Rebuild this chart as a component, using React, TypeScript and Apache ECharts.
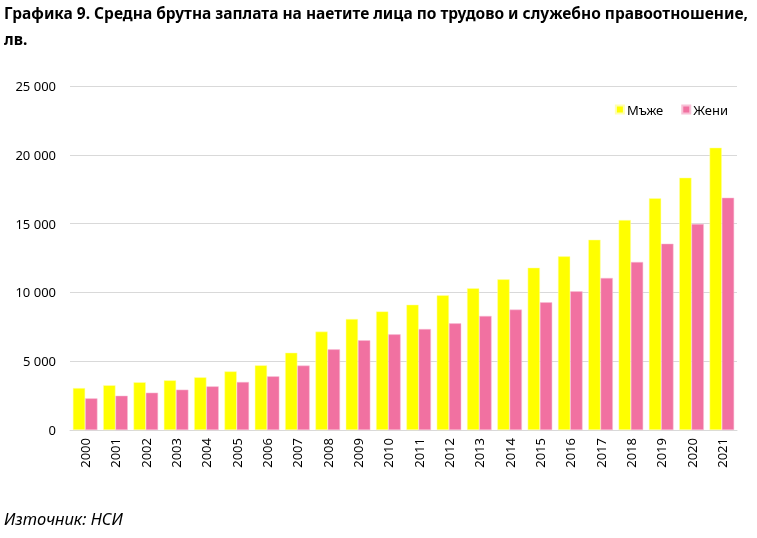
import React, { useEffect, useRef } from "react";
import * as echarts from "echarts";

const years = ["2000","2001","2002","2003","2004","2005","2006","2007","2008","2009","2010","2011","2012","2013","2014","2015","2016","2017","2018","2019","2020","2021"];
const men = [3050,3250,3470,3610,3830,4260,4700,5620,7150,8070,8620,9110,9790,10300,10950,11800,12620,13830,15260,16840,18340,20520];
const women = [2300,2490,2710,2930,3170,3490,3900,4680,5860,6520,6950,7340,7750,8290,8750,9280,10080,11050,12210,13540,14970,16880];
const seriesNames = ["Мъже", "Жени"];
const titleLines = ["Графика 9. Средна брутна заплата на наетите лица по трудово и служебно правоотношение,", "лв."];
const sourceText = "Източник: НСИ";

const FONT = "'Noto Sans', 'Open Sans', sans-serif";

export default function App() {
  const ref = useRef<HTMLDivElement>(null);
  useEffect(() => {
    const chart = echarts.init(ref.current!, null, { renderer: "svg" });
    chart.setOption({
      animation: false,
      textStyle: { fontFamily: FONT },
      graphic: [
        { type: "text", left: 4, top: 5, style: { text: titleLines[0], font: `bold 15.5px ${FONT}`, fill: "#000" } },
        { type: "text", left: 4, top: 31, style: { text: titleLines[1], font: `bold 15.5px ${FONT}`, fill: "#000" } },
        { type: "text", left: 4, top: 510, style: { text: sourceText, font: `italic 16.5px ${FONT}`, fill: "#000" } },
      ],
      legend: {
        data: seriesNames,
        right: 24,
        top: 98,
        icon: "rect",
        itemWidth: 8,
        itemHeight: 8,
        itemGap: 18,
        textStyle: { fontSize: 13, color: "#000", fontFamily: FONT, padding: [0, 0, 0, -2] },
      },
      grid: { left: 70, right: 20, top: 86, bottom: 108, containLabel: false },
      xAxis: {
        type: "category",
        data: years,
        axisLine: { lineStyle: { color: "#d9d9d9", width: 1 } },
        axisTick: { show: false },
        axisLabel: { rotate: 90, color: "#000", fontSize: 13, fontFamily: FONT, margin: 8, interval: 0 },
      },
      yAxis: {
        type: "value",
        min: 0,
        max: 25000,
        interval: 5000,
        axisLine: { show: false },
        axisTick: { show: false },
        splitLine: { lineStyle: { color: "#d9d9d9", width: 1 } },
        axisLabel: {
          color: "#000",
          fontSize: 13,
          fontFamily: FONT,
          margin: 14,
          formatter: (v: number) => String(v).replace(/\B(?=(\d{3})+(?!\d))/g, " "),
        },
      },
      series: [
        {
          name: seriesNames[0],
          type: "bar",
          data: men,
          barGap: "0%",
          barCategoryGap: "19%",
          itemStyle: { color: "#FFFF00", borderColor: "#FFFFB0", borderWidth: 0.5 },
        },
        {
          name: seriesNames[1],
          type: "bar",
          data: women,
          itemStyle: { color: "#F171A1", borderColor: "#F8C0D6", borderWidth: 0.5 },
        },
      ],
    });
    return () => chart.dispose();
  }, []);
  return <div ref={ref} style={{ position: "fixed", left: 0, top: 0, width: 757, height: 538 }} />;
}
